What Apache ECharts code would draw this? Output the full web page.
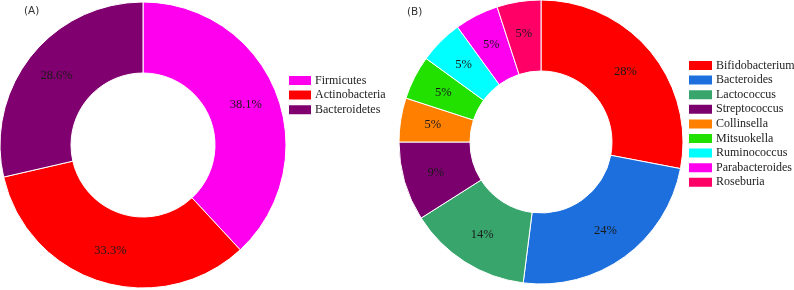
<!DOCTYPE html>
<html>
<head>
<meta charset="utf-8">
<script src="https://cdn.jsdelivr.net/npm/echarts@6/dist/echarts.min.js"></script>
<style>html,body{margin:0;padding:0;background:#fff}#c{width:794px;height:290px}</style>
</head>
<body>
<div id="c"></div>
<script>
const phylaNames = ['Firmicutes', 'Actinobacteria', 'Bacteroidetes'];
const phylaValues = [38.1, 33.3, 28.6];
const phylaLabels = ['38.1%', '33.3%', '28.6%'];
const phylaColors = ['#ff00ee', '#ff0000', '#7f006e'];

const genusNames = ['Bifidobacterium', 'Bacteroides', 'Lactococcus', 'Streptococcus', 'Collinsella', 'Mitsuokella', 'Ruminococcus', 'Parabacteroides', 'Roseburia'];
const genusValues = [28, 24, 14, 9, 5, 5, 5, 5, 5];
const genusLabels = ['28%', '24%', '14%', '9%', '5%', '5%', '5%', '5%', '5%'];
const genusColors = ['#ff0000', '#1c6fdc', '#38a66c', '#7b006e', '#ff7f00', '#22e000', '#00ffff', '#ff00ee', '#ff0066'];

const serif = "'Liberation Serif', 'Times New Roman', serif";
const chart = echarts.init(document.getElementById('c'), null, {renderer: 'canvas'});

function mk(names, values, labels, colors) {
  return names.map((n, i) => ({name: n, value: values[i], itemStyle: {color: colors[i]}, label: {formatter: labels[i]}}));
}

const legendText = {fontFamily: serif, fontSize: 12, color: '#222', padding: [0, 0, 0, -2]};

chart.setOption({
  animation: false,
  graphic: [
    {type: 'text', left: 24, top: 6, style: {text: '(A)', font: "10.5px 'DejaVu Sans', sans-serif", fill: '#333'}},
    {type: 'text', left: 407, top: 7, style: {text: '(B)', font: "10.5px 'DejaVu Sans', sans-serif", fill: '#333'}}
  ],
  legend: [
    {data: phylaNames, orient: 'vertical', left: 287, top: 74, padding: 0, itemWidth: 24, itemHeight: 11, itemGap: 1.6,
     icon: 'rect', textStyle: legendText, selectedMode: false},
    {data: genusNames, orient: 'vertical', left: 687, top: 59, padding: 0, itemWidth: 25, itemHeight: 11, itemGap: 1.6,
     icon: 'rect', textStyle: legendText, selectedMode: false}
  ],
  series: [
    {type: 'pie', center: [143, 145], radius: [72, 143], startAngle: 90, clockwise: true,
     itemStyle: {borderColor: '#fff', borderWidth: 1},
     label: {show: true, position: 'inside', fontFamily: serif, fontSize: 12.5, color: '#1a1a1a'},
     labelLine: {show: false}, emphasis: {disabled: true},
     data: mk(phylaNames, phylaValues, phylaLabels, phylaColors)},
    {type: 'pie', center: [541, 142], radius: [71, 142], startAngle: 90, clockwise: true,
     itemStyle: {borderColor: '#fff', borderWidth: 1},
     label: {show: true, position: 'inside', fontFamily: serif, fontSize: 12.5, color: '#1a1a1a'},
     labelLine: {show: false}, emphasis: {disabled: true},
     data: mk(genusNames, genusValues, genusLabels, genusColors)}
  ]
});
</script>
</body>
</html>
